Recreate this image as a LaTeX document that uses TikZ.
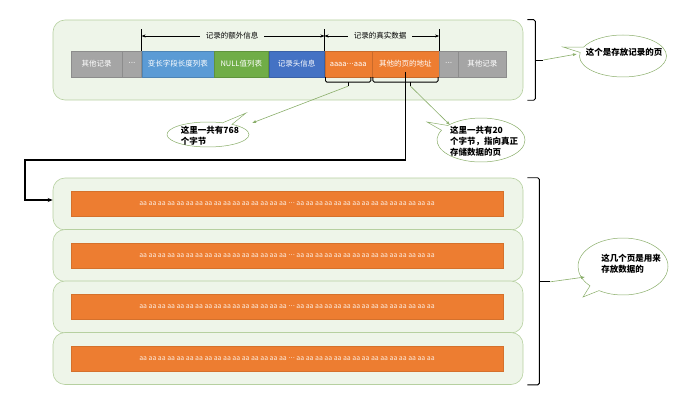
\documentclass[tikz,border=0pt]{standalone}
\usepackage{fontspec}
\setmainfont{Noto Sans CJK SC}
\newfontfamily\dotfont{DejaVu Sans}
\usetikzlibrary{shapes.callouts, arrows.meta}
\definecolor{pagefill}{HTML}{EEF5E9}
\definecolor{pageline}{HTML}{B6D0A0}
\definecolor{recgray}{HTML}{A5A5A5}
\definecolor{recblue}{HTML}{5B9BD5}
\definecolor{recgreen}{HTML}{70AD47}
\definecolor{recnavy}{HTML}{4472C4}
\definecolor{recorange}{HTML}{ED7D31}
\definecolor{noteline}{HTML}{8AAE6A}
\newcommand{\middots}{{\dotfont ···}}
\newcommand{\aarow}{aa aa aa aa aa aa aa aa aa aa aa aa aa aa aa aa \middots{} aa aa aa aa aa aa aa aa aa aa aa aa aa aa aa}

\begin{document}
\begin{tikzpicture}[x=1pt, y=-1pt,
  page/.style={draw=pageline, fill=pagefill, rounded corners=12pt, line width=.6pt, minimum width=470},
  field/.style={draw=#1!85!black, fill=#1, text=white, inner sep=0, line width=.3pt, minimum height=26, font=\fontsize{7.5}{8}\selectfont},
  bar/.style={draw=recorange!90!black, fill=recorange, text=white!85!recorange, inner sep=0, minimum width=432, minimum height=25, font=\fontsize{6.9}{8}\selectfont},
  dimlabel/.style={fill=pagefill, inner xsep=6pt, inner ysep=1pt, font=\fontsize{7.5}{8}\selectfont},
  dimline/.style={line width=.5pt, -{Stealth[length=4pt, width=3pt]}},
  brace/.style={line width=.9pt, rounded corners=1.5pt},
  note/.style={ellipse callout, draw=noteline, fill=white, line width=.5pt, inner sep=0},
  notetext/.style={align=left, font=\fontsize{8.5}{11}\selectfont\bfseries},
  pointer/.style={draw=noteline, line width=.6pt, -{Latex[length=4pt, width=3pt]}}
]
\useasboundingbox (0,0) rectangle (676,401);
\node at (288,60) [name=top, page, minimum height=80] {};
\foreach \i in {0,...,3}{
  \node at (288,{204+51.5*\i}) [name=p\i, page, minimum height=52] {};
  \node at (287,{204+51.5*\i}) [name=b\i, bar] {\aarow};
}
\node at (71,64) [name=oth1, field=recgray, anchor=west, minimum width=51] {其他记录};
\node at (oth1.east) [name=dots1, field=recgray, anchor=west, minimum width=19] {\middots};
\node at (dots1.east) [name=varlen, field=recblue, anchor=west, minimum width=72] {变长字段长度列表};
\node at (varlen.east) [name=nullv, field=recgreen, anchor=west, minimum width=54.5] {NULL值列表};
\node at (nullv.east) [name=header, field=recnavy, anchor=west, minimum width=55.5] {记录头信息};
\node at (header.east) [name=col, field=recorange, anchor=west, minimum width=47] {aaaa\middots aaa};
\node at (col.east) [name=addr, field=recorange, anchor=west, minimum width=67] {其他的页的地址};
\node at (addr.east) [name=dots2, field=recgray, anchor=west, minimum width=19] {\middots};
\node at (dots2.east) [name=oth2, field=recgray, anchor=west, minimum width=47.5] {其他记录};
\draw [line width=.5pt] (varlen.north west) -- ++(0,-22);
\draw [line width=.5pt] (col.north west) -- ++(0,-22);
\draw [line width=.5pt] (addr.north east) -- ++(0,-22);
\node at (232,36) [name=extra, dimlabel] {记录的额外信息};
\node at (380,36) [name=real, dimlabel] {记录的真实数据};
\draw [dimline] (extra.west) -- (extra.west -| varlen.west);
\draw [dimline] (extra.east) -- (extra.east -| col.west);
\draw [dimline] (real.west) -- (real.west -| col.west);
\draw [dimline] (real.east) -- (real.east -| addr.east);
\draw [brace] ([xshift=1pt]col.south west) -- ++(0,5) -| ([xshift=-1pt]col.south east);
\draw [brace] (col.south) ++(0,5) -- ++(0,4) coordinate (colmark);
\draw [brace] ([xshift=1pt]addr.south west) -- ++(0,5) -| ([xshift=-1pt]addr.south east);
\draw [brace] (addr.south) ++(5,5) -- ++(0,4) coordinate (addrmark);
\coordinate (bend) at (25,160);
\draw [line width=1.1pt, -{Stealth[length=5pt, width=4pt]}] ([yshift=-8pt]addr.center) |- (bend) |- ([yshift=4pt]p0.west);
\draw [brace] ([xshift=4pt]top.north east) -- ([xshift=12pt]top.north east) -- ([xshift=12pt]top.south east) -- ([xshift=4pt]top.south east);
\draw [brace] ([xshift=12pt]top.east) -- ++(8,0) coordinate (topmark);
\draw [brace] ([xshift=4pt]p0.north east) -- ([xshift=16pt]p0.north east) -- ([xshift=16pt]p3.south east) -- ([xshift=4pt]p3.south east);
\draw [brace] ([xshift=16pt]p1.south east) -- ++(11,0) coordinate (botmark);
\node at (208,134.5) [name=n1, note, minimum width=82, minimum height=25, callout absolute pointer={(246,113)}] {};
\node at (481,140) [name=n2, note, minimum width=88, minimum height=44, callout absolute pointer={(427,122)}] {};
\node at (623,56) [name=n3, note, minimum width=87, minimum height=42, callout absolute pointer={(563,47)}] {};
\node at (623,266.5) [name=n4, note, minimum width=90, minimum height=57, callout absolute pointer={(583,297)}] {};
\node at (210,136) [name=t1, notetext] {这里一共有768\\个字节};
\node at (484,141) [name=t2, notetext] {这里一共有20\\个字节，指向真正\\存储数据的页};
\node at (624,52) [name=t3, notetext] {这个是存放记录的页};
\node at (631,264) [name=t4, notetext] {这几个页是用来\\存放数据的};
\draw [pointer] (colmark) -- (252,123);
\draw [pointer] (addrmark) -- (450,125);
\draw [pointer] (topmark) -- (577,54);
\draw [pointer] (botmark) -- (585,277);
\end{tikzpicture}
\end{document}
